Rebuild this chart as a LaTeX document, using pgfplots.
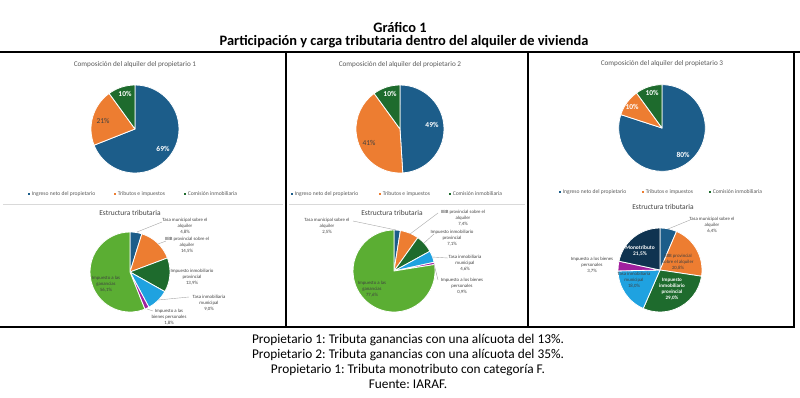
\documentclass[border=0pt]{standalone}
\usepackage{pgfplots}
\usepackage{pgfplotstable}
\pgfplotsset{compat=1.18}
\usepackage{fontspec}
\setmainfont{Carlito}
\frenchspacing

\definecolor{cBlue}{HTML}{1C5D8A}
\definecolor{cOrange}{HTML}{ED7D31}
\definecolor{cGreen}{HTML}{1E6B2D}
\definecolor{cLBlue}{HTML}{1FA2E0}
\definecolor{cPurple}{HTML}{A1209F}
\definecolor{cLGreen}{HTML}{5BAE33}
\definecolor{cNavy}{HTML}{0F3350}
\definecolor{txtg}{HTML}{595959}
\definecolor{txtd}{HTML}{404040}

% Composición del alquiler
\pgfplotstableread{
v c
69 cBlue
21 cOrange
10 cGreen
}\topA
\pgfplotstableread{
v c
49 cBlue
41 cOrange
10 cGreen
}\topB
\pgfplotstableread{
v c
80 cBlue
10 cOrange
10 cGreen
}\topC
% Estructura tributaria
\pgfplotstableread{
v c
4.8 cBlue
14.5 cOrange
13.9 cGreen
9.0 cLBlue
1.8 cPurple
56.1 cLGreen
}\botA
\pgfplotstableread{
v c
2.5 cBlue
7.4 cOrange
7.1 cGreen
4.6 cLBlue
0.9 cPurple
77.6 cLGreen
}\botB
\pgfplotstableread{
v c
6.4 cBlue
20.8 cOrange
29.0 cGreen
18.0 cLBlue
3.7 cPurple
21.5 cNavy
}\botC

\newcommand\drawpie[2]{%
\pgfplotsextra{%
 \pgfplotstablegetrowsof{#1}\pgfmathtruncatemacro\pn{\pgfplotsretval-1}%
 \gdef\psum{0}%
 \foreach \i in {0,...,\pn}{\pgfplotstablegetelem{\i}{v}\of{#1}\pgfmathsetmacro\tmpS{\psum+\pgfplotsretval}\xdef\psum{\tmpS}}%
 \gdef\pcum{90}%
 \foreach \i in {0,...,\pn}{%
  \pgfplotstablegetelem{\i}{v}\of{#1}\pgfmathsetmacro\pend{\pcum-\pgfplotsretval/\psum*360}%
  \pgfplotstablegetelem{\i}{c}\of{#1}\let\pc\pgfplotsretval
  \fill[fill=\pc, draw=white, line width=0.6pt, line join=round] (axis cs:0,0) -- ++(\pcum:#2) arc[start angle=\pcum, end angle=\pend, radius=#2] -- cycle;
  \xdef\pcum{\pend}}%
}}

\pgfplotsset{pieax/.style={anchor=center, hide axis, clip=false, xmin=-1, xmax=1, ymin=-1, ymax=1, x=#1, y=#1}}

\newcommand\legitem[4]{%
 \fill[#3] (#1-1.1,#2-1.1) rectangle (#1+1.1,#2+1.1);
 \node[anchor=west, inner sep=0pt, font=\fontsize{4.2}{5}\selectfont, text=txtg] at (#1+2.5,#2) {#4};}

\begin{document}
\begin{tikzpicture}[x=0.75pt, y=0.75pt]
% pies
\begin{axis}[pieax=33pt, at={(101.25pt,-96.75pt)}]\drawpie{\topA}{33pt}\end{axis}
\begin{axis}[pieax=33pt, at={(300pt,-96.75pt)}]\drawpie{\topB}{33pt}\end{axis}
\begin{axis}[pieax=32.5pt, at={(496.5pt,-96pt)}]\drawpie{\topC}{32.5pt}\end{axis}
\begin{axis}[pieax=30pt, at={(97.5pt,-204pt)}]\drawpie{\botA}{30pt}\end{axis}
\begin{axis}[pieax=30.75pt, at={(295.5pt,-203.25pt)}]\drawpie{\botB}{30.75pt}\end{axis}
\begin{axis}[pieax=31.5pt, at={(495pt,-202.5pt)}]\drawpie{\botC}{31.5pt}\end{axis}

% titles
\node[font=\fontsize{10.8}{13}\selectfont\bfseries] at (400,-27) {Gráfico 1};
\node[font=\fontsize{10.8}{13}\selectfont\bfseries] at (404,-42) {Participación y carga tributaria dentro del alquiler de vivienda};

% frame
\draw[line width=1.2pt] (0,-52) -- (800,-52);
\draw[line width=1.2pt] (0,-327) -- (795,-327);
\draw[line width=1.2pt] (286,-52) -- (286,-327);
\draw[line width=1.2pt] (528,-52) -- (528,-327);
\draw[line width=1.2pt] (794,-52) -- (794,-327);
\draw[color=black!15, line width=0.5pt] (3,-204) -- (283,-204);
\draw[color=black!15, line width=0.5pt] (289,-204) -- (525,-204);

% panel titles
\begin{scope}[every node/.style={font=\fontsize{5.4}{6}\selectfont, text=txtg}]
\node at (135,-65) {Composición del alquiler del propietario 1};
\node at (400,-65) {Composición del alquiler del propietario 2};
\node at (662,-64) {Composición del alquiler del propietario 3};
\end{scope}

% top pie labels
\begin{scope}[every node/.style={font=\fontsize{5.6}{6}\selectfont\bfseries, text=white}]
\node at (163,-149) {69\%};
\node[text=txtd, font=\fontsize{5.6}{6}\selectfont] at (103,-121) {21\%};
\node at (125,-94) {10\%};
\node at (432,-125) {49\%};
\node[text=txtd, font=\fontsize{5.6}{6}\selectfont] at (369,-143) {41\%};
\node at (390,-94) {10\%};
\node at (683,-155) {80\%};
\node at (632,-107) {10\%};
\node at (652,-93) {10\%};
\end{scope}

% legends
\legitem{29}{-194}{cBlue}{Ingreso neto del propietario}
\legitem{115}{-194}{cOrange}{Tributos e impuestos}
\legitem{185}{-194}{cGreen}{Comisión inmobiliaria}
\legitem{292}{-194}{cBlue}{Ingreso neto del propietario}
\legitem{380}{-194}{cOrange}{Tributos e impuestos}
\legitem{450}{-194}{cGreen}{Comisión inmobiliaria}
\legitem{560}{-192}{cBlue}{Ingreso neto del propietario}
\legitem{643}{-192}{cOrange}{Tributos e impuestos}
\legitem{710}{-192}{cGreen}{Comisión inmobiliaria}

% Estructura tributaria titles
\begin{scope}[every node/.style={font=\fontsize{5.6}{6}\selectfont, text=txtd}]
\node at (130,-213) {Estructura tributaria};
\node at (392,-213) {Estructura tributaria};
\node at (663,-207) {Estructura tributaria};
\end{scope}

% leader lines
\begin{scope}[draw=black!35, line width=0.3pt]
\draw (137,-232) -- (162,-222);
\draw (158,-244) -- (166,-241);
\draw (158,-300) -- (189,-297);
\draw (147,-309) -- (153,-311);
\draw (353,-221) -- (396,-230);
\draw (410,-234) -- (438,-213);
\draw (424,-243) -- (434,-234);
\draw (432,-257) -- (448,-258);
\draw (434,-264) -- (438,-280);
\draw (668,-229) -- (690,-220);
\end{scope}

% bottom labels
\begin{scope}[every node/.style={font=\fontsize{3.6}{4.5}\selectfont, text=txtd, align=center, inner sep=0pt}]
\node at (185,-226) {Tasa municipal sobre el\\alquiler\\4,8\%};
\node at (187,-245) {IIBB provincial sobre el\\alquiler\\14,5\%};
\node at (192,-277) {Impuesto inmobiliario\\provincial\\13,9\%};
\node at (209,-303) {Tasa inmobiliaria\\municipal\\9,0\%};
\node at (169,-317) {Impuesto a las\\bienes personales\\1,8\%};
\node at (106,-284) {Impuesto a las\\ganancias\\56,1\%};
\node at (327,-226) {Tasa municipal sobre el\\alquiler\\2,5\%};
\node at (463,-218) {IIBB provincial sobre el\\alquiler\\7,4\%};
\node at (452,-238) {Impuesto inmobiliario\\provincial\\7,1\%};
\node at (465,-263) {Tasa inmobiliaria\\municipal\\4,6\%};
\node at (462,-286) {Impuesto a los bienes\\personales\\0,9\%};
\node at (372,-289) {Impuesto a las\\ganancias\\77,6\%};
\node at (712,-225) {Tasa municipal sobre el\\alquiler\\6,4\%};
\node at (678,-262) {IIBB provincial\\sobre el alquiler\\20,8\%};
\node at (634,-280) {Tasa inmobiliaria\\municipal\\18,0\%};
\node at (592,-265) {Impuesto a los bienes\\personales\\3,7\%};
\node[text=white, font=\fontsize{3.8}{4.5}\selectfont\bfseries] at (672,-289) {Impuesto\\inmobiliario\\provincial\\29,0\%};
\node[text=white, font=\fontsize{4.1}{4.8}\selectfont\bfseries] at (640,-251) {Monotributo\\21,5\%};
\end{scope}

% footer
\begin{scope}[every node/.style={font=\fontsize{10}{12}\selectfont}]
\node at (408,-340) {Propietario 1: Tributa ganancias con una alícuota del 13\%.};
\node at (408,-355) {Propietario 2: Tributa ganancias con una alícuota del 35\%.};
\node at (408,-370) {Propietario 1: Tributa monotributo con categoría F.};
\node at (408,-384) {Fuente: IARAF.};
\end{scope}

\pgfresetboundingbox
\path[use as bounding box] (0,0) rectangle (800,-397);
\end{tikzpicture}
\end{document}
